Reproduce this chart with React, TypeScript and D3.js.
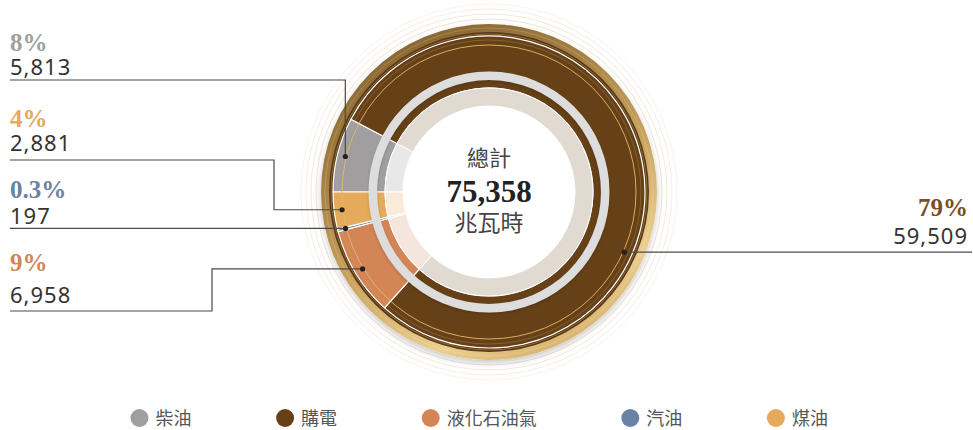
import React from 'react';
import * as d3 from 'd3';

const categories = ['柴油', '購電', '液化石油氣', '汽油', '煤油'];
const values = [5813, 59509, 6958, 197, 2881];
const colors = ['#a09e9f', '#664117', '#d38556', '#6a83a4', '#e5aa5b'];
const lightColors = ['#e8e8e8', '#e0dad1', '#f4e6dc', '#e3e9f1', '#faebd9'];
const centerTitle = '總計';
const centerUnit = '兆瓦時';

const W = 973;
const H = 430;
const CX = 489;
const CY = 192;

// label layout (text positions / leader routing)
const labelLayout: Record<string, { side: 'left' | 'right'; pctY: number; numY: number; lineY: number | null; elbowX: number | null; anchorDeg?: number }> = {
  '柴油': { side: 'left', pctY: 51, numY: 75, lineY: 80, elbowX: null },
  '煤油': { side: 'left', pctY: 127, numY: 151, lineY: 160, elbowX: 274 },
  '汽油': { side: 'left', pctY: 198, numY: 224, lineY: null, elbowX: null },
  '液化石油氣': { side: 'left', pctY: 271, numY: 303, lineY: 311, elbowX: 212 },
  '購電': { side: 'right', pctY: 216, numY: 244, lineY: null, elbowX: null, anchorDeg: 114 },
};

export default function App() {
  const data = categories.map((c, i) => ({ name: c, value: values[i], color: colors[i], light: lightColors[i] }));
  const total = d3.sum(values);
  const pie = d3.pie<any>().value((d) => d.value).sort(null).startAngle(-Math.PI / 2).endAngle((3 * Math.PI) / 2);
  const arcs = pie(data);
  const outerArc = d3.arc<any>().innerRadius(104).outerRadius(156);
  const innerArc = d3.arc<any>().innerRadius(86).outerRadius(104);
  const ring = (r0: number, r1: number) => d3.arc<any>()({ innerRadius: r0, outerRadius: r1, startAngle: 0, endAngle: 2 * Math.PI } as any) as string;
  const fmtPct = (v: number) => {
    const p = (v / total) * 100;
    return p < 1 ? d3.format('.1f')(p) + '%' : d3.format('.0f')(p) + '%';
  };
  const fmtNum = d3.format(',');
  const anchorR = 148;

  // legend
  const legendGap = 85.6;
  let lx = 130.5;
  const legendItems = data.map((d) => {
    const w = 18 + 6 + d.name.length * 18;
    const item = { ...d, x: lx };
    lx += w + legendGap;
    return item;
  });

  return (
    <svg width={W} height={H} style={{ position: 'absolute', left: 0, top: 0, background: '#fff' }}>
      <defs>
        <linearGradient id="gold" x1="0.1" y1="0" x2="0.6" y2="1">
          <stop offset="0" stopColor="#86612e" />
          <stop offset="0.3" stopColor="#a98244" />
          <stop offset="0.6" stopColor="#d2aa62" />
          <stop offset="0.88" stopColor="#f7da98" />
          <stop offset="1" stopColor="#e6c07a" />
        </linearGradient>
        <radialGradient id="tube" cx={CX} cy={CY} r={121} gradientUnits="userSpaceOnUse">
          <stop offset={112 / 121} stopColor="#d2d2d2" />
          <stop offset={114 / 121} stopColor="#ebebeb" />
          <stop offset={117 / 121} stopColor="#fdfdfd" />
          <stop offset={119.5 / 121} stopColor="#f2f2f2" />
          <stop offset={1} stopColor="#dddddd" />
        </radialGradient>
        <radialGradient id="goldband" cx={CX} cy={CY} r={169} gradientUnits="userSpaceOnUse">
          <stop offset={159 / 169} stopColor="#000" stopOpacity={0.2} />
          <stop offset={163 / 169} stopColor="#fff" stopOpacity={0.12} />
          <stop offset={166 / 169} stopColor="#fff" stopOpacity={0.3} />
          <stop offset={1} stopColor="#000" stopOpacity={0.05} />
        </radialGradient>
        <filter id="shadow" x="-30%" y="-30%" width="160%" height="160%">
          <feDropShadow dx="0" dy="3" stdDeviation="3" floodColor="#000" floodOpacity="0.22" />
        </filter>
        <filter id="tubeShadow" x="-30%" y="-30%" width="160%" height="160%">
          <feDropShadow dx="0" dy="1.5" stdDeviation="1.5" floodColor="#000" floodOpacity="0.18" />
        </filter>
      </defs>

      <g transform={`translate(${CX},${CY})`}>
        {/* faint outer rings */}
        {[173, 178, 183, 188].map((r, i) => (
          <circle key={r} r={r} fill="none" stroke="#ecd6bd" strokeWidth={0.8} opacity={0.85 - i * 0.15} />
        ))}
        {/* gold band with shadow */}
        <path d={ring(156, 168)} fill="url(#gold)" filter="url(#shadow)" />
        <path d={ring(156, 168)} fill="url(#goldband)" />
        <path d={ring(156, 160)} fill="#5a3814" />
        <circle r={158} fill="none" stroke="#c9a264" strokeWidth={0.6} opacity={0.8} />
        <circle r={164} fill="none" stroke="#fff1cc" strokeWidth={0.5} opacity={0.4} />

        {/* outer segments */}
        {arcs.map((a, i) => (
          <path key={'o' + i} d={outerArc(a) as string} fill={a.data.color} stroke="#fff" strokeWidth={1.2} />
        ))}
        {/* inner light segments */}
        {arcs.map((a, i) => (
          <path key={'i' + i} d={innerArc(a) as string} fill={a.data.light} stroke="#fff" strokeWidth={1} />
        ))}
        {/* decorative thin lines */}
        <circle r={147} fill="none" stroke="#e2b967" strokeWidth={1} opacity={0.9} />
        <circle r={152} fill="none" stroke="#d6b27a" strokeWidth={0.5} opacity={0.5} />
        {/* separator tube */}
        <path d={ring(112, 120.5)} fill="url(#tube)" filter="url(#tubeShadow)" />

        {/* center text */}
        <text x={0} y={166 - CY} textAnchor="middle" fontFamily="'Noto Sans CJK TC', sans-serif" fontSize={22} fill="#444">{centerTitle}</text>
        <text x={0} y={202 - CY} textAnchor="middle" fontFamily="'Liberation Serif', serif" fontWeight="bold" fontSize={31} fill="#222">{fmtNum(total)}</text>
        <text x={0} y={231 - CY} textAnchor="middle" fontFamily="'Noto Sans CJK TC', sans-serif" fontSize={23} fill="#444">{centerUnit}</text>
      </g>

      {/* labels and leaders */}
      {arcs.map((a, i) => {
        const L = labelLayout[a.data.name];
        const ang = L.anchorDeg != null ? (L.anchorDeg * Math.PI) / 180 : (a.startAngle + a.endAngle) / 2;
        const dx = CX + anchorR * Math.sin(ang);
        const dy = CY - anchorR * Math.cos(ang);
        const lineY = L.lineY != null ? L.lineY : dy;
        const ex = L.elbowX != null ? L.elbowX : dx;
        const x0 = L.side === 'left' ? 10 : 972;
        const path = d3.line()([
          [x0, lineY],
          [ex, lineY],
          [ex, dy],
          [dx, dy],
        ]) as string;
        const tx = L.side === 'left' ? 10 : 968;
        const anchor = L.side === 'left' ? 'start' : 'end';
        return (
          <g key={'l' + i}>
            <path d={path} fill="none" stroke="#4a4a4a" strokeWidth={1.2} />
            <circle cx={dx} cy={dy} r={2.6} fill="#222" />
            <text x={tx} y={L.pctY} textAnchor={anchor} fontFamily="'Liberation Serif', serif" fontWeight="bold" fontSize={25} fill={a.data.name === '購電' ? '#7a4f1f' : a.data.color}>
              {fmtPct(a.data.value)}
            </text>
            <text x={tx} y={L.numY} textAnchor={anchor} fontFamily="'Noto Sans', sans-serif" fontSize={22} letterSpacing={1} fill="#333">
              {fmtNum(a.data.value)}
            </text>
          </g>
        );
      })}

      {/* legend */}
      {legendItems.map((d) => (
        <g key={'lg' + d.name} transform={`translate(${d.x},418)`}>
          <circle cx={9} cy={0} r={9} fill={d.color} />
          <text x={25} y={6.5} fontFamily="'Noto Sans CJK TC', sans-serif" fontSize={18} fill="#555">{d.name}</text>
        </g>
      ))}
    </svg>
  );
}
